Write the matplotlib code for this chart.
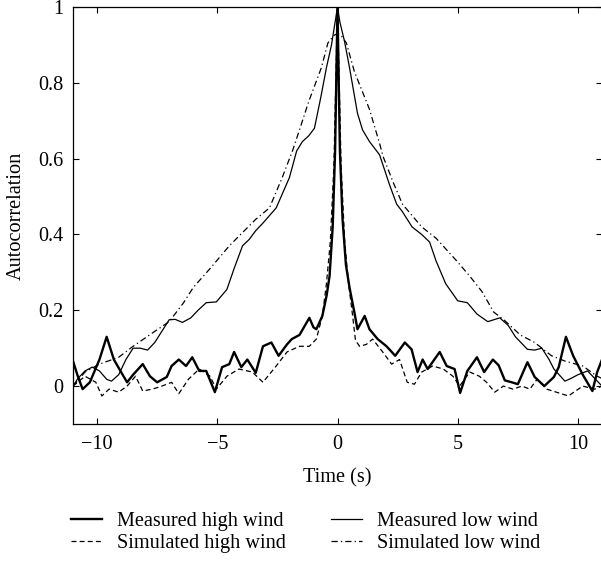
import matplotlib
matplotlib.use("Agg")
import matplotlib.pyplot as plt
from matplotlib.ticker import FixedLocator, FuncFormatter

plt.rcParams['font.family'] = ['Liberation Serif', 'DejaVu Serif']
FS = 14.6
plt.rcParams['font.size'] = FS

# ---------------- data ----------------
mh_x = [-11.0, -10.8, -10.6, -10.3, -9.9, -9.6, -9.3, -9.0, -8.75, -8.5, -8.1, -7.8, -7.5, -7.1,
        -6.9, -6.6, -6.3, -6.04, -5.75, -5.46, -5.1, -4.8, -4.5, -4.3, -4.0, -3.75, -3.4, -3.1,
        -2.75, -2.45, -2.1, -1.9, -1.58, -1.17, -1.0, -0.88, -0.63, -0.45, -0.33, -0.2, -0.1, 0.0,
        0.1, 0.21, 0.35, 0.5, 0.7, 0.83, 1.13, 1.33, 1.67, 2.04, 2.4, 2.8, 3.08, 3.33, 3.54, 3.75,
        4.25, 4.54, 4.87, 5.1, 5.4, 5.8, 6.1, 6.46, 6.7, 6.96, 7.25, 7.5, 7.9, 8.2, 8.6, 9.0, 9.2,
        9.5, 9.8, 10.2, 10.6, 10.8, 11.0]
mh_y = [0.066, 0.026, -0.008, 0.01, 0.07, 0.13, 0.07, 0.037, 0.01, 0.03, 0.058, 0.026, 0.01, 0.024,
        0.053, 0.07, 0.053, 0.076, 0.04, 0.04, -0.016, 0.05, 0.058, 0.09, 0.05, 0.07, 0.035, 0.105,
        0.115, 0.08, 0.11, 0.124, 0.135, 0.18, 0.155, 0.15, 0.185, 0.24, 0.29, 0.42, 0.62, 1.0,
        0.62, 0.44, 0.32, 0.26, 0.195, 0.15, 0.185, 0.15, 0.124, 0.105, 0.08, 0.115, 0.097, 0.037, 0.07, 0.045,
        0.09, 0.053, 0.045, -0.018, 0.04, 0.076, 0.037, 0.07, 0.055, 0.015, 0.01, 0.005, 0.063, 0.024, 0.0, 0.024, 0.05,
        0.13, 0.08, 0.03, -0.013, 0.037, 0.07]

sh_x = [-11.0, -10.5, -10.05, -9.8, -9.5, -9.1, -8.75, -8.4, -8.1, -7.7, -7.3, -6.9, -6.6, -6.2,
        -5.75, -5.3, -5.04, -4.6, -4.1, -3.54, -3.1, -2.55, -2.1, -1.58, -1.17, -0.88, -0.63, -0.46,
        -0.3, -0.15, 0.0, 0.15, 0.3, 0.46, 0.63, 0.75, 0.92, 1.2, 1.46, 1.88, 2.25, 2.58, 2.9, 3.2,
        3.5, 3.96, 4.4, 4.8, 5.08, 5.5, 5.9, 6.2, 6.54, 6.9, 7.3, 7.67, 8.0, 8.3, 8.7, 9.1, 9.6,
        10.2, 10.7, 11.0]
sh_y = [0.0, 0.026, 0.01, -0.026, -0.008, -0.016, 0.0, 0.026, -0.013, -0.008, 0.0, 0.01, -0.02, 0.018,
        0.045, 0.026, -0.008, 0.026, 0.045, 0.037, 0.01, 0.053, 0.09, 0.105, 0.105, 0.124, 0.185, 0.27,
        0.38, 0.58, 1.0, 0.58, 0.38, 0.27, 0.185, 0.12, 0.105, 0.11, 0.124, 0.09, 0.058, 0.07, 0.01, 0.005,
        0.037, 0.053, 0.045, 0.026, 0.0, 0.037, 0.026, 0.01, -0.016, 0.0, -0.008, 0.0, -0.008, 0.018, -0.008, -0.016, -0.026,
        0.0, -0.008, 0.0]

ml_x = [-11.0, -10.8, -10.5, -10.2, -9.9, -9.6, -9.4, -9.1, -8.8, -8.5, -8.2, -7.9, -7.6, -7.3,
        -7.0, -6.75, -6.45, -6.1, -5.8, -5.46, -5.04, -4.6, -4.3, -3.95, -3.67, -3.4, -3.1, -2.55,
        -2.0, -1.7, -1.46, -1.2, -0.96, -0.7, -0.46, -0.25, -0.1, 0.0,
        0.1, 0.29, 0.5, 0.83, 1.04, 1.33, 1.75, 2.17, 2.46, 2.7, 3.1, 3.5, 3.83, 4.1, 4.5, 5.0, 5.4,
        5.8, 6.25, 6.75, 7.1, 7.4, 7.9, 8.2, 8.5, 8.8, 9.0, 9.46, 9.7, 10.0, 10.4, 10.7, 11.0]
ml_y = [0.0, 0.02, 0.04, 0.05, 0.04, 0.018, 0.013, 0.03, 0.07, 0.10, 0.10, 0.095, 0.115, 0.145,
        0.175, 0.176, 0.168, 0.18, 0.2, 0.22, 0.222, 0.255, 0.31, 0.37, 0.387, 0.41, 0.43, 0.47,
        0.55, 0.62, 0.645, 0.66, 0.68, 0.76, 0.84, 0.9, 0.96, 1.0,
        0.96, 0.91, 0.84, 0.72, 0.676, 0.645, 0.61, 0.53, 0.48, 0.46, 0.42, 0.40, 0.38, 0.33, 0.27, 0.225, 0.22,
        0.19, 0.17, 0.18, 0.16, 0.13, 0.097, 0.095, 0.10, 0.07, 0.045, 0.013, 0.02, 0.03, 0.04, 0.02, 0.0]

sl_x = [-11.0, -10.5, -9.9, -9.1, -8.5, -7.7, -7.0, -6.4, -6.0, -5.3, -4.5, -3.95, -3.4, -2.83,
        -2.3, -1.875, -1.58, -1.2, -0.67, -0.4, -0.15, 0.0, 0.15, 0.37, 0.7, 1.33, 1.75, 1.9, 2.3,
        2.7, 3.1, 3.5, 4.1, 4.96, 5.5, 6.0, 6.5, 6.9, 7.6, 8.2, 8.9, 9.46, 10.2, 10.8, 11.0]
sl_y = [0.0, 0.037, 0.058, 0.076, 0.105, 0.14, 0.17, 0.22, 0.26, 0.31, 0.37, 0.405, 0.44, 0.47,
        0.55, 0.62, 0.676, 0.75, 0.84, 0.905, 0.925, 0.93, 0.925, 0.905, 0.83, 0.73, 0.64, 0.605, 0.54,
        0.48, 0.45, 0.42, 0.39, 0.33, 0.29, 0.25, 0.195, 0.176, 0.135, 0.115, 0.08, 0.066, 0.053, 0.026, 0.02]

labels = ["Measured high wind", "Simulated high wind", "Measured low wind", "Simulated low wind"]
x_ticks = [-10, -5, 0, 5, 10]
y_ticks = [0, 0.2, 0.4, 0.6, 0.8, 1.0]

# ---------------- figure ----------------
W, H = 601, 567
fig = plt.figure(figsize=(W / 100, H / 100), dpi=100)
left, right, top, bottom = 73, 602, 7, 424
ax = fig.add_axes([left / W, 1 - bottom / H, (right - left) / W, (bottom - top) / H])

l1, = ax.plot(mh_x, mh_y, color='black', lw=1.7, label=labels[0])
l2, = ax.plot(sh_x, sh_y, color='black', lw=0.9, ls=(0, (4, 2.5)), label=labels[1])
l3, = ax.plot(ml_x, ml_y, color='black', lw=0.9, label=labels[2])
l4, = ax.plot(sl_x, sl_y, color='black', lw=0.9, ls=(0, (5, 2.5, 1, 2.5)), label=labels[3])

ax.set_xlim(-11, 11)
ax.set_ylim(-0.1, 1.0)
ax.xaxis.set_major_locator(FixedLocator(x_ticks))
ax.yaxis.set_major_locator(FixedLocator(y_ticks))
ax.xaxis.set_major_formatter(FuncFormatter(lambda v, p: f"{v:g}".replace("-", "\u2212")))
ax.yaxis.set_major_formatter(FuncFormatter(lambda v, p: f"{v:g}"))
ax.tick_params(axis='x', direction='in', top=True, length=4, width=0.8, labelsize=FS, pad=8)
ax.tick_params(axis='y', direction='in', right=True, length=4, width=0.8, labelsize=FS, pad=7)
for s in ax.spines.values():
    s.set_linewidth(0.9)

ax.set_xlabel("Time (s)", fontsize=FS, labelpad=10)
ax.set_ylabel("Autocorrelation", fontsize=FS, labelpad=9)

fig.legend(handles=[l1, l2, l3, l4], loc='upper left', bbox_to_anchor=(71 / W, 1 - 512 / H),
           ncol=2, frameon=False, fontsize=FS, handlelength=1.55, handletextpad=0.72,
           columnspacing=2.2, labelspacing=0.15, borderpad=0.0, borderaxespad=0.0)

fig.savefig("out.png", dpi=100)
